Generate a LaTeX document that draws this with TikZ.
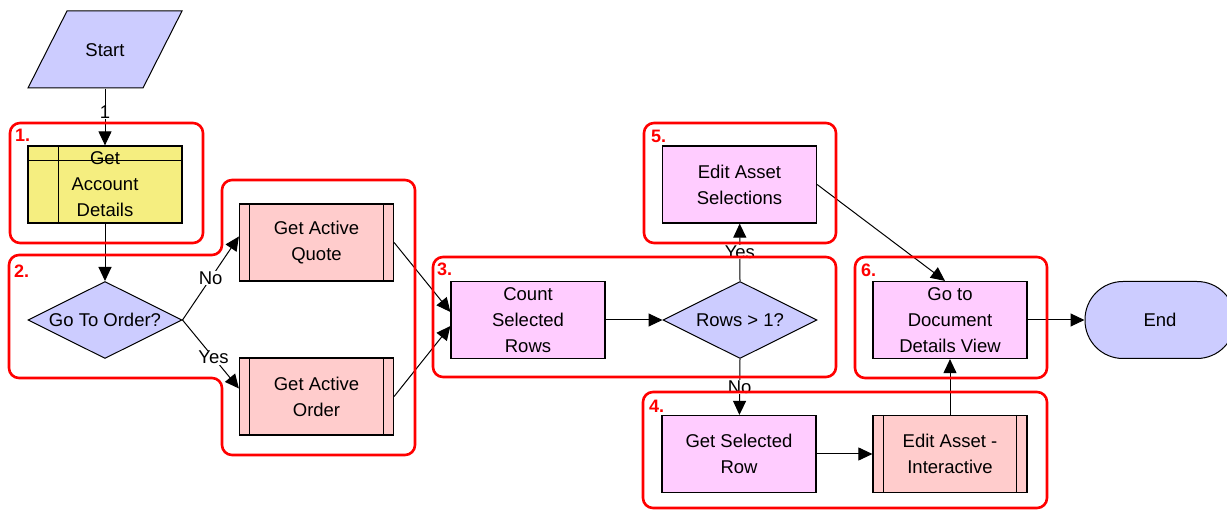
\documentclass[tikz,border=0pt]{standalone}
\usepackage{fontspec}
\setmainfont{Liberation Sans}
\usetikzlibrary{shapes.geometric,arrows.meta}
\definecolor{lav}{HTML}{CCCCFF}
\definecolor{sub}{HTML}{FFCCCC}
\definecolor{act}{HTML}{FFCCFF}
\definecolor{yel}{HTML}{F5EE80}
\definecolor{grpred}{HTML}{FF0000}

\begin{document}
\begin{tikzpicture}[x=1pt,y=-1pt,
  font=\fontsize{18.5}{26}\selectfont,
  box/.style={draw, line width=1.2pt, minimum width=154pt, minimum height=77pt, align=center, inner sep=0pt},
  dec/.style={draw, diamond, aspect=2, fill=lav, line width=1pt, minimum width=154pt, minimum height=77pt, inner sep=0pt},
  grp/.style={draw=grpred, line width=2.6pt, rounded corners=10pt},
  num/.style={text=grpred, font=\fontsize{18}{18}\selectfont\bfseries, anchor=west, inner sep=0pt},
  arr/.style={-{Triangle[length=14pt,width=13pt]}, line width=1pt},
  lbl/.style={fill=white, inner sep=0.5pt}]
\useasboundingbox (0,0) rectangle (1227,510);

\draw[line width=1pt, fill=lav] (28,88) -- (67,11) -- (182,11) -- (143,88) -- cycle;
\node[minimum width=115pt, minimum height=77pt, inner sep=0pt] (s) at (105,50) {Start};

\node[box, fill=yel] (a) at (105,184.5) {Get\\Account\\Details};
\draw[line width=1pt] ([xshift=31pt]a.north west) -- ([xshift=31pt]a.south west);
\draw[line width=1pt] ([yshift=-15pt]a.north west) -- ([yshift=-15pt]a.north east);

\node[dec] (d1) at (105,320) {\makebox[0pt]{Go To Order?}};
\node[box, fill=sub] (q) at (316.5,242.5) {Get Active\\Quote};
\node[box, fill=sub] (o) at (316.5,396.5) {Get Active\\Order};

\node[box, fill=act] (c) at (528,320) {Count\\Selected\\Rows};
\node[dec] (d2) at (740,320) {\makebox[0pt]{Rows > 1?}};

\node[box, fill=act] (es) at (739.5,184.5) {Edit Asset\\Selections};
\node[box, fill=act] (gs) at (739,454) {Get Selected\\Row};
\node[box, fill=sub] (ei) at (950,454) {Edit Asset -\\Interactive};

\node[box, fill=act] (g) at (950,320) {Go to\\Document\\Details View};
\node[draw, line width=1pt, fill=lav, rounded corners=38pt, minimum width=150pt, minimum height=77pt] (e) at (1160,320) {End};

\foreach \n in {q,o,ei} {
  \draw[line width=1pt] ([xshift=11pt]\n.north west) -- ([xshift=11pt]\n.south west);
  \draw[line width=1pt] ([xshift=-11pt]\n.north east) -- ([xshift=-11pt]\n.south east);
}

\draw[arr] (s) -- node[lbl, pos=0.42] {1} (a);
\draw[arr] (a) -- (d1);
\draw[arr] (d1.east) -- node[lbl] {No} ([yshift=6pt]q.west);
\draw[arr] (d1.east) -- node[lbl, pos=0.55] {Yes} ([yshift=8pt]o.west);
\draw[arr] (q.east) -- ([yshift=8pt]c.west);
\draw[arr] (o.east) -- ([yshift=-6pt]c.west);
\draw[arr] (c) -- (d2);
\draw[arr] (d2.north) -- node[lbl] {Yes} (es);
\draw[arr] (d2.south) -- node[lbl] {No} (gs);
\draw[arr] (gs) -- (ei);
\draw[arr] (ei) -- (g);
\draw[arr] (es.east) -- ([xshift=-5pt]g.north);
\draw[arr] (g) -- (e);

\draw[grp] (10,123) rectangle (203,243);
\node[num] (n1) at (15,135) {1.};
\draw[grp] (9,255) -- (222,255) -- (222,180) -- (415,180) -- (415,455) -- (222,455) -- (222,378) -- (9,378) -- cycle;
\node[num] (n2) at (14,271) {2.};
\draw[grp] (433,257) rectangle (836,377);
\node[num] (n3) at (437,269) {3.};
\draw[grp] (643,392) rectangle (1047,508);
\node[num] (n4) at (649,406) {4.};
\draw[grp] (644,123) rectangle (836,243);
\node[num] (n5) at (651,136) {5.};
\draw[grp] (855,257) rectangle (1047,378);
\node[num] (n6) at (861,270) {6.};
\end{tikzpicture}
\end{document}
